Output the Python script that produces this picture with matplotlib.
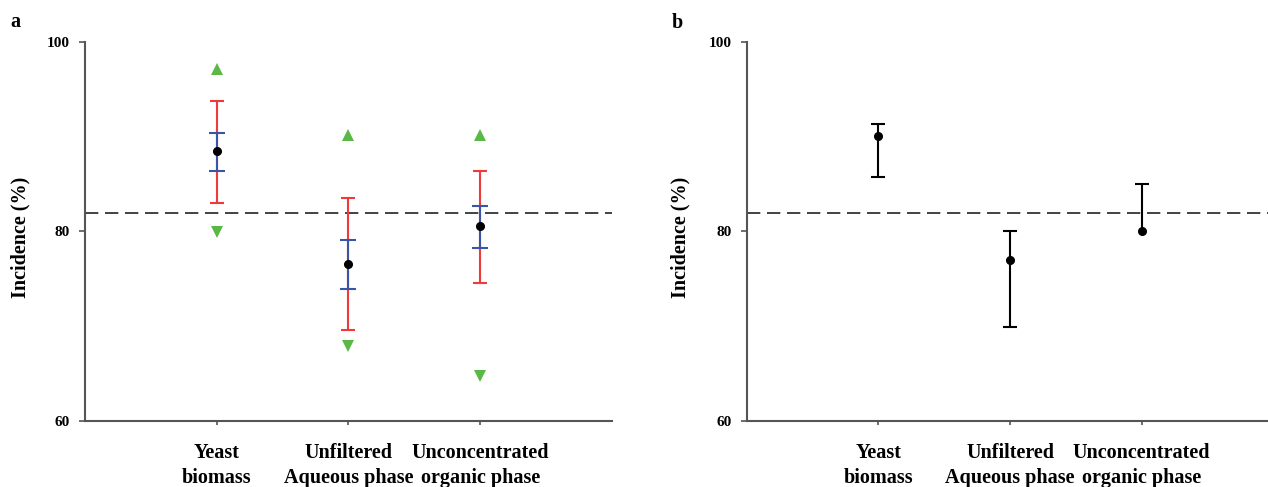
import matplotlib
matplotlib.use("Agg")
import matplotlib.pyplot as plt
import numpy as np

plt.rcParams['font.family'] = ['Liberation Serif', 'DejaVu Serif']

categories = ["Yeast\nbiomass", "Unfiltered\nAqueous phase", "Unconcentrated\norganic phase"]
reference_line = 81.9

# Panel a
a_mean = [88.5, 76.6, 80.6]
a_blue_low = [86.4, 73.9, 78.3]
a_blue_high = [90.4, 79.1, 82.7]
a_red_low = [83.0, 69.6, 74.6]
a_red_high = [93.8, 83.5, 86.4]
a_max = [97.2, 90.2, 90.2]
a_min = [79.9, 67.9, 64.8]

# Panel b
b_mean = [90.1, 77.0, 80.1]
b_low = [85.8, 69.9, 80.1]
b_high = [91.3, 80.0, 85.0]

yticks = [60, 80, 100]

fig = plt.figure(figsize=(12.68, 4.87), dpi=100)
axa = fig.add_axes([0.067, 0.1355, 0.4156, 0.7783])
axb = fig.add_axes([0.589, 0.1355, 0.411, 0.7783])

x = np.arange(1, 4)
spine_col = '#555555'

def style(ax, xmax, label_x):
    ax.set_xlim(0, xmax)
    ax.set_ylim(60, 100)
    for s in ['top', 'right']:
        ax.spines[s].set_visible(False)
    for s in ['left', 'bottom']:
        ax.spines[s].set_color(spine_col)
        ax.spines[s].set_linewidth(1.5)
    ax.set_yticks(yticks)
    ax.set_yticklabels([str(t) for t in yticks], fontsize=11, fontweight='bold')
    ax.tick_params(axis='y', length=4, width=1.2, color=spine_col, pad=7)
    ax.set_xticks(x)
    ax.set_xticklabels(categories, fontsize=14.5, fontweight='bold', linespacing=1.3)
    ax.tick_params(axis='x', length=3, width=1.2, color=spine_col, pad=13)
    ax.set_ylabel("Incidence (%)", fontsize=14.5, fontweight='bold')
    ax.yaxis.set_label_coords(label_x, 0.485)
    ax.axhline(reference_line, color='#222222', lw=1.2, dashes=(8, 4), zorder=1)

style(axa, 4.0, -0.104)
style(axb, 3.96, -0.109)

# Panel a drawing
am = np.array(a_mean)
axa.errorbar(x, am, yerr=[am - np.array(a_red_low), np.array(a_red_high) - am],
             fmt='none', ecolor='#f03a3a', elinewidth=1.5, capsize=5, capthick=1.5, zorder=2)
axa.errorbar(x, am, yerr=[am - np.array(a_blue_low), np.array(a_blue_high) - am],
             fmt='none', ecolor='#3a55a8', elinewidth=1.5, capsize=5.5, capthick=1.5, zorder=3)
axa.plot(x, am, 'o', color='black', markersize=5.5, zorder=4)
axa.plot(x, a_max, '^', color='#5ab847', markersize=9, markeredgewidth=0, zorder=4)
axa.plot(x, a_min, 'v', color='#5ab847', markersize=9, markeredgewidth=0, zorder=4)

# Panel b drawing
for xi, m, lo, hi in zip(x, b_mean, b_low, b_high):
    cont = axb.errorbar([xi], [m], yerr=[[m - lo], [hi - m]], fmt='o', color='black',
                        ecolor='black', markersize=5.5, elinewidth=1.5, capsize=5,
                        capthick=1.5, zorder=3)
    caps = cont[1]
    if m - lo <= 0 and len(caps) > 0:
        caps[0].set_visible(False)
    if hi - m <= 0 and len(caps) > 1:
        caps[1].set_visible(False)

fig.text(0.008, 0.955, "a", fontsize=14.5, fontweight='bold', va='center', ha='left')
fig.text(0.530, 0.952, "b", fontsize=14.5, fontweight='bold', va='center', ha='left')

fig.savefig("out.png", dpi=100)
